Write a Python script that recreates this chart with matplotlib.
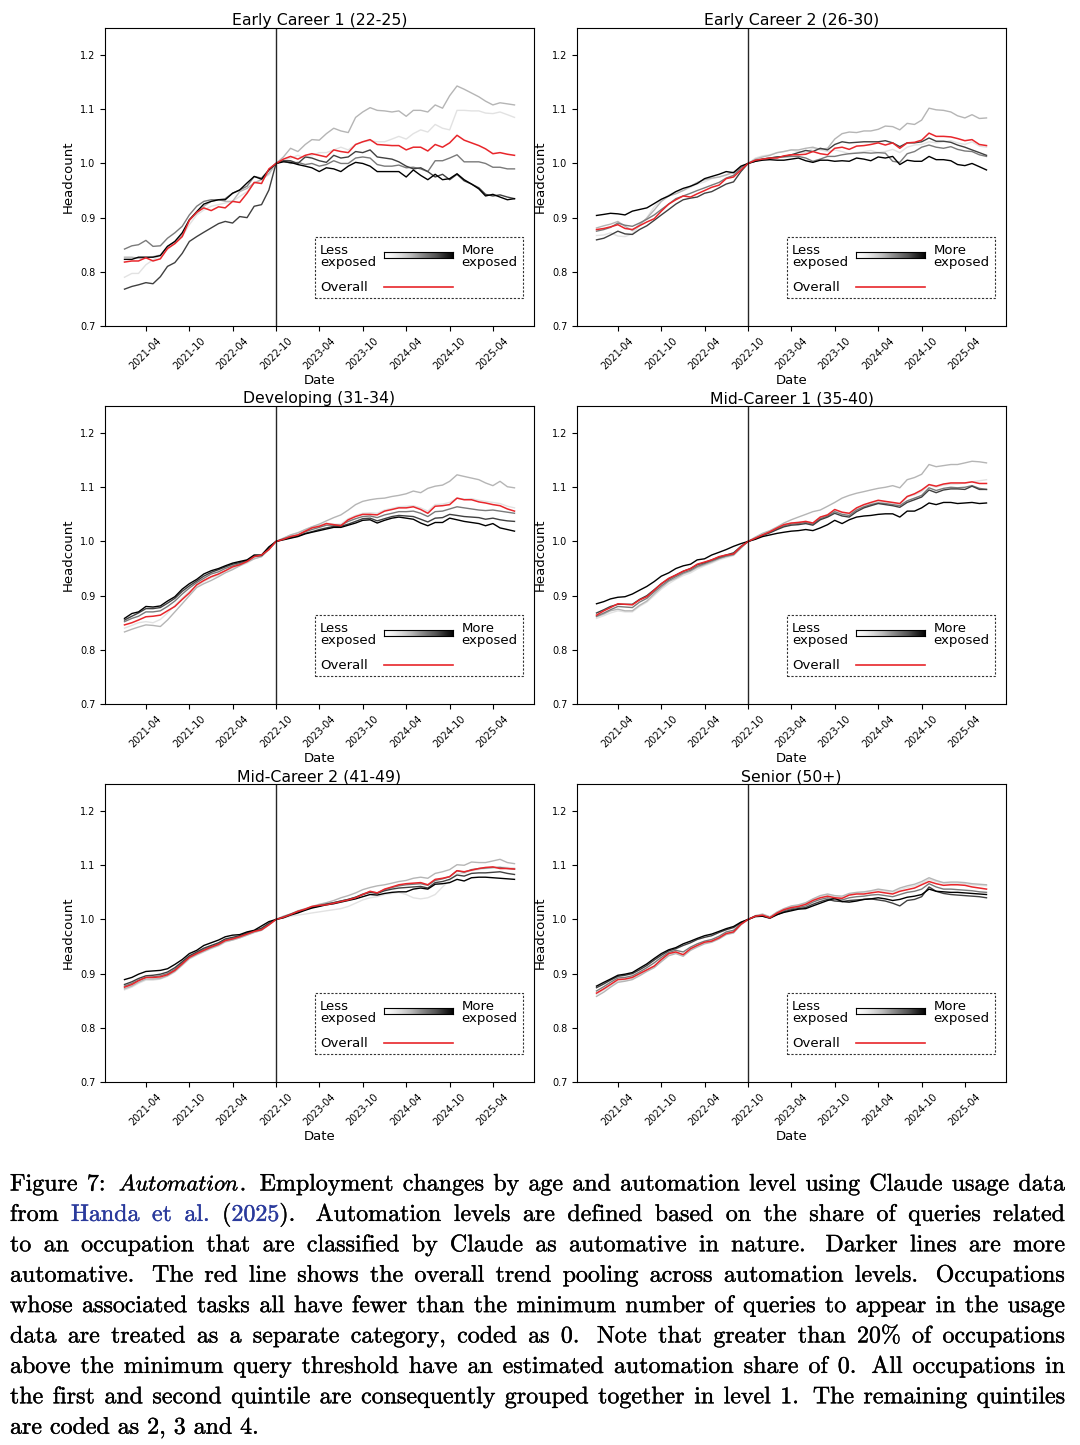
import numpy as np
import pandas as pd
import matplotlib
matplotlib.use("Agg")
import matplotlib.pyplot as plt
import matplotlib.dates as mdates
import matplotlib.patheffects as pe
from matplotlib.patches import Rectangle
from matplotlib.lines import Line2D

plt.rcParams["mathtext.fontset"] = "cm"
plt.rcParams["font.family"] = ["DejaVu Sans"]

# ---------------------------------------------------------------- data
dates = pd.date_range("2021-01-01", periods=55, freq="MS")
cutoff = pd.Timestamp("2022-10-01")
titles = ["Early Career 1 (22-25)", "Early Career 2 (26-30)", "Developing (31-34)",
          "Mid-Career 1 (35-40)", "Mid-Career 2 (41-49)", "Senior (50+)"]
yticks = [0.7, 0.8, 0.9, 1.0, 1.1, 1.2]

# Early Career 1 (22-25): automation levels 0..4 and overall
ec1_l0 = [0.790, 0.797, 0.797, 0.813, 0.822, 0.830, 0.841, 0.853, 0.865, 0.887, 0.905, 0.914, 0.921, 0.924, 0.927, 0.930, 0.939, 0.948, 0.964, 0.971, 0.979, 1.000,
          1.005, 1.010, 1.015, 1.010, 1.015, 1.020, 1.020, 1.025, 1.030, 1.025, 1.035, 1.040, 1.042, 1.040, 1.040, 1.045, 1.050, 1.045, 1.055, 1.062, 1.058, 1.072, 1.065, 1.062, 1.098, 1.098, 1.097, 1.097, 1.093, 1.092, 1.095, 1.090, 1.085]
ec1_l1 = [0.827, 0.827, 0.825, 0.825, 0.828, 0.831, 0.847, 0.856, 0.868, 0.896, 0.908, 0.921, 0.930, 0.933, 0.930, 0.930, 0.948, 0.954, 0.964, 0.970, 0.982, 1.000,
          1.012, 1.028, 1.022, 1.035, 1.044, 1.043, 1.055, 1.065, 1.060, 1.057, 1.085, 1.095, 1.103, 1.098, 1.097, 1.095, 1.097, 1.087, 1.098, 1.098, 1.095, 1.108, 1.102, 1.125, 1.143, 1.137, 1.130, 1.123, 1.115, 1.108, 1.112, 1.110, 1.108]
ec1_l2 = [0.842, 0.848, 0.850, 0.858, 0.847, 0.848, 0.862, 0.872, 0.884, 0.905, 0.921, 0.930, 0.933, 0.933, 0.935, 0.945, 0.951, 0.958, 0.976, 0.973, 0.988, 1.000,
          1.005, 1.000, 1.002, 0.998, 1.000, 0.995, 0.998, 1.005, 1.000, 1.000, 1.010, 1.012, 1.010, 0.998, 0.995, 0.995, 0.997, 0.992, 0.993, 0.990, 0.985, 1.005, 1.005, 1.010, 1.016, 1.003, 1.003, 1.003, 1.000, 0.993, 0.993, 0.990, 0.990]
ec1_l3 = [0.768, 0.773, 0.776, 0.780, 0.778, 0.791, 0.810, 0.817, 0.834, 0.856, 0.865, 0.873, 0.881, 0.889, 0.893, 0.890, 0.902, 0.900, 0.921, 0.924, 0.951, 1.000,
          1.005, 1.005, 1.000, 1.012, 1.010, 1.005, 1.002, 1.015, 1.010, 1.012, 1.022, 1.020, 1.025, 1.012, 1.010, 1.008, 1.003, 0.995, 0.990, 0.992, 0.985, 0.975, 0.980, 0.970, 0.980, 0.968, 0.962, 0.955, 0.943, 0.940, 0.942, 0.938, 0.935]
ec1_l4 = [0.823, 0.823, 0.827, 0.827, 0.827, 0.830, 0.847, 0.856, 0.872, 0.896, 0.911, 0.925, 0.930, 0.933, 0.933, 0.945, 0.951, 0.964, 0.976, 0.971, 0.988, 1.000,
          1.003, 1.002, 0.998, 0.995, 0.992, 0.985, 0.992, 0.990, 0.985, 0.995, 1.002, 1.000, 0.995, 0.985, 0.985, 0.985, 0.985, 0.975, 0.988, 0.978, 0.970, 0.980, 0.970, 0.972, 0.981, 0.970, 0.962, 0.953, 0.940, 0.943, 0.938, 0.933, 0.935]
ec1_all = [0.818, 0.820, 0.820, 0.826, 0.820, 0.824, 0.843, 0.852, 0.865, 0.895, 0.910, 0.918, 0.913, 0.920, 0.918, 0.930, 0.928, 0.945, 0.965, 0.963, 0.990, 1.000,
           1.008, 1.013, 1.008, 1.015, 1.018, 1.015, 1.012, 1.025, 1.022, 1.020, 1.035, 1.040, 1.044, 1.035, 1.034, 1.033, 1.033, 1.025, 1.030, 1.030, 1.023, 1.035, 1.030, 1.038, 1.052, 1.043, 1.038, 1.033, 1.027, 1.018, 1.020, 1.017, 1.015]

# Early Career 2 (26-30)
ec2_l0 = [0.867, 0.868, 0.872, 0.866, 0.865, 0.870, 0.885, 0.900, 0.920, 0.933, 0.942, 0.948, 0.950, 0.956, 0.962, 0.966, 0.972, 0.975, 0.978, 0.983, 0.992, 1.000,
          1.010, 1.014, 1.016, 1.020, 1.022, 1.025, 1.022, 1.020, 1.028, 1.025, 1.022, 1.025, 1.022, 1.018, 1.020, 1.022, 1.024, 1.020, 1.022, 1.026, 1.020, 1.030, 1.034, 1.035, 1.040, 1.038, 1.040, 1.042, 1.038, 1.035, 1.040, 1.032, 1.030]
ec2_l1 = [0.881, 0.885, 0.888, 0.893, 0.884, 0.876, 0.887, 0.899, 0.914, 0.930, 0.940, 0.944, 0.950, 0.958, 0.965, 0.970, 0.973, 0.975, 0.979, 0.984, 0.993, 1.000,
          1.008, 1.012, 1.015, 1.020, 1.022, 1.025, 1.025, 1.028, 1.030, 1.026, 1.028, 1.045, 1.055, 1.058, 1.057, 1.060, 1.060, 1.063, 1.069, 1.068, 1.062, 1.074, 1.072, 1.080, 1.102, 1.099, 1.098, 1.095, 1.088, 1.084, 1.090, 1.083, 1.084]
ec2_l2 = [0.875, 0.878, 0.882, 0.890, 0.886, 0.884, 0.890, 0.897, 0.905, 0.915, 0.925, 0.935, 0.940, 0.945, 0.950, 0.955, 0.960, 0.965, 0.973, 0.978, 0.992, 1.000,
          1.006, 1.008, 1.010, 1.012, 1.012, 1.013, 1.013, 1.010, 1.004, 1.008, 1.013, 1.013, 1.016, 1.018, 1.019, 1.020, 1.019, 1.020, 1.019, 1.004, 1.002, 1.018, 1.022, 1.030, 1.034, 1.030, 1.028, 1.031, 1.026, 1.023, 1.022, 1.016, 1.013]
ec2_l3 = [0.859, 0.862, 0.868, 0.875, 0.870, 0.869, 0.878, 0.885, 0.895, 0.905, 0.915, 0.925, 0.933, 0.936, 0.938, 0.945, 0.948, 0.955, 0.962, 0.966, 0.985, 1.000,
          1.004, 1.008, 1.010, 1.012, 1.013, 1.016, 1.020, 1.024, 1.022, 1.028, 1.025, 1.035, 1.040, 1.038, 1.039, 1.040, 1.040, 1.040, 1.042, 1.038, 1.031, 1.038, 1.038, 1.040, 1.047, 1.041, 1.041, 1.039, 1.034, 1.030, 1.025, 1.020, 1.015]
ec2_l4 = [0.904, 0.906, 0.908, 0.907, 0.905, 0.912, 0.915, 0.918, 0.926, 0.934, 0.940, 0.948, 0.954, 0.958, 0.963, 0.972, 0.976, 0.980, 0.985, 0.983, 0.995, 1.000,
          1.004, 1.006, 1.007, 1.006, 1.006, 1.008, 1.010, 1.005, 1.002, 1.006, 1.006, 1.004, 1.005, 1.004, 1.010, 1.008, 1.005, 1.012, 1.010, 1.013, 0.998, 1.006, 1.004, 1.004, 1.013, 1.007, 1.007, 1.005, 0.998, 0.996, 1.000, 0.994, 0.988]
ec2_all = [0.878, 0.880, 0.883, 0.887, 0.880, 0.878, 0.885, 0.892, 0.898, 0.912, 0.925, 0.933, 0.940, 0.938, 0.944, 0.950, 0.956, 0.960, 0.972, 0.975, 0.988, 1.000,
           1.006, 1.008, 1.010, 1.010, 1.014, 1.016, 1.016, 1.017, 1.022, 1.018, 1.016, 1.028, 1.030, 1.026, 1.032, 1.033, 1.035, 1.038, 1.034, 1.038, 1.028, 1.038, 1.039, 1.043, 1.056, 1.050, 1.050, 1.049, 1.046, 1.042, 1.044, 1.035, 1.033]

# Developing (31-34)
dev_l0 = [0.840, 0.845, 0.850, 0.852, 0.850, 0.856, 0.868, 0.882, 0.896, 0.908, 0.918, 0.926, 0.933, 0.938, 0.945, 0.950, 0.955, 0.960, 0.968, 0.972, 0.985, 1.000,
          1.006, 1.012, 1.016, 1.022, 1.027, 1.030, 1.034, 1.032, 1.032, 1.042, 1.048, 1.052, 1.053, 1.052, 1.058, 1.061, 1.064, 1.065, 1.066, 1.062, 1.056, 1.068, 1.069, 1.072, 1.080, 1.078, 1.079, 1.076, 1.074, 1.072, 1.070, 1.065, 1.062]
dev_l1 = [0.833, 0.838, 0.842, 0.846, 0.845, 0.843, 0.855, 0.870, 0.885, 0.900, 0.915, 0.922, 0.928, 0.935, 0.942, 0.948, 0.955, 0.962, 0.968, 0.972, 0.985, 1.000,
          1.006, 1.012, 1.016, 1.022, 1.027, 1.032, 1.038, 1.044, 1.049, 1.058, 1.068, 1.074, 1.077, 1.079, 1.080, 1.083, 1.085, 1.088, 1.093, 1.090, 1.098, 1.102, 1.104, 1.111, 1.123, 1.120, 1.117, 1.114, 1.108, 1.103, 1.111, 1.101, 1.099]
dev_l2 = [0.852, 0.858, 0.862, 0.870, 0.870, 0.872, 0.880, 0.890, 0.903, 0.914, 0.924, 0.932, 0.940, 0.944, 0.950, 0.955, 0.959, 0.964, 0.972, 0.974, 0.986, 1.000,
          1.005, 1.009, 1.012, 1.018, 1.022, 1.026, 1.030, 1.030, 1.030, 1.037, 1.042, 1.046, 1.047, 1.044, 1.049, 1.052, 1.055, 1.055, 1.056, 1.052, 1.046, 1.055, 1.056, 1.060, 1.064, 1.062, 1.060, 1.058, 1.057, 1.058, 1.056, 1.054, 1.052]
dev_l3 = [0.855, 0.862, 0.868, 0.876, 0.876, 0.878, 0.886, 0.895, 0.908, 0.918, 0.927, 0.936, 0.943, 0.948, 0.953, 0.958, 0.961, 0.965, 0.973, 0.974, 0.988, 1.000,
          1.004, 1.007, 1.010, 1.015, 1.018, 1.022, 1.025, 1.028, 1.028, 1.032, 1.037, 1.042, 1.043, 1.038, 1.042, 1.046, 1.048, 1.047, 1.046, 1.041, 1.036, 1.043, 1.044, 1.050, 1.048, 1.046, 1.045, 1.044, 1.041, 1.043, 1.040, 1.038, 1.037]
dev_l4 = [0.858, 0.867, 0.870, 0.880, 0.879, 0.881, 0.890, 0.898, 0.912, 0.922, 0.930, 0.940, 0.946, 0.950, 0.955, 0.960, 0.963, 0.966, 0.975, 0.975, 0.990, 1.000,
          1.003, 1.006, 1.009, 1.014, 1.017, 1.020, 1.023, 1.026, 1.026, 1.030, 1.034, 1.039, 1.040, 1.034, 1.039, 1.043, 1.045, 1.043, 1.041, 1.034, 1.029, 1.035, 1.035, 1.043, 1.040, 1.037, 1.035, 1.033, 1.029, 1.033, 1.025, 1.022, 1.019]
dev_all = [0.846, 0.850, 0.855, 0.861, 0.862, 0.864, 0.872, 0.880, 0.893, 0.905, 0.920, 0.928, 0.935, 0.940, 0.946, 0.953, 0.957, 0.963, 0.972, 0.975, 0.985, 1.000,
           1.004, 1.009, 1.012, 1.019, 1.025, 1.028, 1.033, 1.031, 1.029, 1.040, 1.046, 1.050, 1.050, 1.049, 1.056, 1.059, 1.062, 1.062, 1.064, 1.059, 1.052, 1.065, 1.066, 1.068, 1.080, 1.077, 1.077, 1.073, 1.071, 1.068, 1.066, 1.060, 1.056]

# Mid-Career 1 (35-40)
mc1_l0 = [0.858, 0.863, 0.868, 0.872, 0.870, 0.870, 0.880, 0.888, 0.900, 0.912, 0.922, 0.930, 0.937, 0.942, 0.949, 0.955, 0.960, 0.966, 0.970, 0.974, 0.987, 1.000,
          1.008, 1.014, 1.019, 1.025, 1.031, 1.034, 1.036, 1.037, 1.034, 1.044, 1.050, 1.057, 1.053, 1.051, 1.060, 1.066, 1.070, 1.073, 1.073, 1.071, 1.068, 1.082, 1.086, 1.092, 1.104, 1.100, 1.104, 1.106, 1.106, 1.108, 1.110, 1.112, 1.114]
mc1_l1 = [0.861, 0.866, 0.872, 0.875, 0.872, 0.872, 0.882, 0.890, 0.903, 0.915, 0.926, 0.932, 0.940, 0.945, 0.952, 0.957, 0.962, 0.968, 0.972, 0.975, 0.988, 1.000,
          1.008, 1.015, 1.020, 1.027, 1.034, 1.040, 1.045, 1.050, 1.055, 1.058, 1.065, 1.072, 1.080, 1.085, 1.089, 1.092, 1.095, 1.098, 1.100, 1.103, 1.099, 1.114, 1.118, 1.124, 1.142, 1.138, 1.140, 1.142, 1.142, 1.145, 1.148, 1.147, 1.145]
mc1_l2 = [0.862, 0.868, 0.874, 0.880, 0.879, 0.878, 0.888, 0.895, 0.907, 0.918, 0.928, 0.935, 0.942, 0.947, 0.954, 0.959, 0.964, 0.969, 0.973, 0.976, 0.989, 1.000,
          1.006, 1.012, 1.017, 1.023, 1.029, 1.032, 1.033, 1.035, 1.032, 1.042, 1.047, 1.055, 1.050, 1.048, 1.058, 1.064, 1.068, 1.071, 1.070, 1.068, 1.066, 1.075, 1.080, 1.085, 1.099, 1.094, 1.098, 1.100, 1.099, 1.100, 1.103, 1.098, 1.096]
mc1_l3 = [0.868, 0.874, 0.880, 0.884, 0.884, 0.884, 0.893, 0.900, 0.911, 0.922, 0.931, 0.938, 0.945, 0.950, 0.957, 0.961, 0.966, 0.971, 0.975, 0.979, 0.991, 1.000,
          1.005, 1.011, 1.016, 1.022, 1.027, 1.030, 1.031, 1.033, 1.030, 1.040, 1.045, 1.052, 1.047, 1.045, 1.055, 1.062, 1.066, 1.070, 1.068, 1.066, 1.063, 1.072, 1.077, 1.082, 1.095, 1.090, 1.095, 1.097, 1.097, 1.096, 1.102, 1.096, 1.096]
mc1_l4 = [0.885, 0.889, 0.894, 0.897, 0.898, 0.903, 0.910, 0.917, 0.926, 0.936, 0.942, 0.950, 0.955, 0.958, 0.966, 0.968, 0.975, 0.980, 0.985, 0.991, 0.996, 1.000,
          1.004, 1.009, 1.012, 1.015, 1.017, 1.019, 1.020, 1.022, 1.020, 1.025, 1.031, 1.039, 1.033, 1.040, 1.045, 1.047, 1.048, 1.050, 1.051, 1.051, 1.045, 1.056, 1.056, 1.062, 1.071, 1.068, 1.072, 1.072, 1.070, 1.071, 1.072, 1.070, 1.071]
mc1_all = [0.864, 0.872, 0.878, 0.885, 0.884, 0.883, 0.892, 0.898, 0.910, 0.922, 0.932, 0.938, 0.945, 0.950, 0.958, 0.962, 0.966, 0.972, 0.975, 0.977, 0.990, 1.000,
           1.006, 1.012, 1.018, 1.025, 1.031, 1.034, 1.035, 1.037, 1.034, 1.045, 1.049, 1.059, 1.054, 1.052, 1.062, 1.068, 1.072, 1.076, 1.074, 1.072, 1.070, 1.083, 1.088, 1.095, 1.105, 1.102, 1.106, 1.108, 1.108, 1.108, 1.110, 1.107, 1.107]

# Mid-Career 2 (41-49)
mc2_l0 = [0.870, 0.875, 0.882, 0.888, 0.888, 0.890, 0.895, 0.903, 0.915, 0.927, 0.934, 0.940, 0.946, 0.951, 0.958, 0.962, 0.966, 0.971, 0.976, 0.980, 0.990, 1.000,
          1.003, 1.006, 1.008, 1.010, 1.012, 1.014, 1.016, 1.018, 1.020, 1.024, 1.030, 1.036, 1.040, 1.042, 1.046, 1.048, 1.050, 1.046, 1.040, 1.038, 1.040, 1.046, 1.060, 1.072, 1.085, 1.085, 1.090, 1.092, 1.094, 1.095, 1.097, 1.096, 1.095]
mc2_l1 = [0.872, 0.877, 0.884, 0.890, 0.890, 0.891, 0.896, 0.904, 0.916, 0.928, 0.935, 0.941, 0.947, 0.952, 0.959, 0.962, 0.966, 0.971, 0.976, 0.980, 0.990, 1.000,
          1.006, 1.010, 1.016, 1.020, 1.024, 1.028, 1.031, 1.035, 1.040, 1.044, 1.049, 1.055, 1.059, 1.062, 1.064, 1.067, 1.070, 1.072, 1.076, 1.078, 1.076, 1.085, 1.088, 1.092, 1.101, 1.100, 1.106, 1.105, 1.105, 1.108, 1.111, 1.105, 1.103]
mc2_l2 = [0.877, 0.882, 0.888, 0.893, 0.894, 0.896, 0.900, 0.908, 0.920, 0.931, 0.938, 0.945, 0.950, 0.955, 0.962, 0.965, 0.969, 0.974, 0.978, 0.982, 0.992, 1.000,
          1.005, 1.010, 1.015, 1.019, 1.023, 1.026, 1.029, 1.031, 1.034, 1.037, 1.041, 1.047, 1.051, 1.049, 1.055, 1.059, 1.062, 1.064, 1.065, 1.066, 1.063, 1.072, 1.075, 1.079, 1.090, 1.087, 1.092, 1.094, 1.095, 1.096, 1.096, 1.094, 1.093]
mc2_l3 = [0.880, 0.885, 0.891, 0.896, 0.897, 0.899, 0.903, 0.911, 0.922, 0.933, 0.940, 0.947, 0.952, 0.957, 0.964, 0.967, 0.970, 0.975, 0.979, 0.984, 0.993, 1.000,
          1.004, 1.009, 1.014, 1.018, 1.022, 1.025, 1.028, 1.031, 1.034, 1.037, 1.041, 1.046, 1.050, 1.048, 1.053, 1.056, 1.058, 1.059, 1.060, 1.061, 1.058, 1.068, 1.070, 1.074, 1.082, 1.080, 1.085, 1.086, 1.086, 1.087, 1.088, 1.085, 1.083]
mc2_l4 = [0.889, 0.893, 0.899, 0.904, 0.905, 0.906, 0.909, 0.917, 0.926, 0.937, 0.943, 0.952, 0.957, 0.962, 0.968, 0.971, 0.972, 0.977, 0.980, 0.988, 0.996, 1.000,
          1.003, 1.008, 1.012, 1.017, 1.021, 1.024, 1.027, 1.029, 1.032, 1.035, 1.038, 1.042, 1.046, 1.045, 1.048, 1.050, 1.051, 1.051, 1.056, 1.058, 1.056, 1.065, 1.066, 1.068, 1.074, 1.071, 1.077, 1.078, 1.078, 1.077, 1.076, 1.075, 1.074]
mc2_all = [0.875, 0.880, 0.887, 0.893, 0.893, 0.894, 0.898, 0.906, 0.918, 0.930, 0.937, 0.943, 0.949, 0.954, 0.961, 0.964, 0.968, 0.973, 0.978, 0.981, 0.990, 1.000,
           1.004, 1.009, 1.015, 1.019, 1.024, 1.026, 1.027, 1.030, 1.033, 1.036, 1.040, 1.046, 1.052, 1.049, 1.056, 1.060, 1.064, 1.066, 1.067, 1.068, 1.064, 1.074, 1.076, 1.079, 1.090, 1.088, 1.091, 1.094, 1.096, 1.097, 1.094, 1.094, 1.093]

# Senior (50+)
sen_l0 = [0.862, 0.870, 0.878, 0.886, 0.888, 0.891, 0.898, 0.906, 0.914, 0.925, 0.935, 0.939, 0.935, 0.945, 0.951, 0.957, 0.960, 0.966, 0.974, 0.977, 0.991, 1.000,
          1.007, 1.009, 1.004, 1.013, 1.019, 1.024, 1.026, 1.030, 1.037, 1.043, 1.046, 1.042, 1.041, 1.047, 1.049, 1.050, 1.052, 1.054, 1.052, 1.050, 1.055, 1.059, 1.062, 1.067, 1.074, 1.070, 1.067, 1.067, 1.067, 1.066, 1.064, 1.063, 1.062]
sen_l1 = [0.858, 0.866, 0.875, 0.884, 0.886, 0.889, 0.896, 0.904, 0.911, 0.922, 0.933, 0.937, 0.932, 0.943, 0.949, 0.955, 0.958, 0.964, 0.972, 0.975, 0.990, 1.000,
          1.007, 1.010, 1.005, 1.014, 1.020, 1.025, 1.027, 1.031, 1.038, 1.044, 1.047, 1.044, 1.043, 1.048, 1.050, 1.051, 1.053, 1.056, 1.054, 1.052, 1.058, 1.062, 1.065, 1.070, 1.077, 1.072, 1.068, 1.069, 1.069, 1.068, 1.066, 1.065, 1.064]
sen_l2 = [0.868, 0.876, 0.884, 0.892, 0.893, 0.896, 0.903, 0.911, 0.920, 0.930, 0.939, 0.943, 0.940, 0.949, 0.955, 0.960, 0.963, 0.969, 0.977, 0.980, 0.992, 1.000,
          1.006, 1.007, 1.003, 1.011, 1.016, 1.020, 1.022, 1.025, 1.032, 1.037, 1.040, 1.037, 1.036, 1.040, 1.042, 1.043, 1.045, 1.046, 1.044, 1.042, 1.046, 1.050, 1.052, 1.056, 1.066, 1.060, 1.056, 1.056, 1.055, 1.054, 1.053, 1.051, 1.050]
sen_l3 = [0.874, 0.881, 0.888, 0.895, 0.897, 0.900, 0.907, 0.915, 0.925, 0.934, 0.942, 0.946, 0.952, 0.957, 0.963, 0.967, 0.970, 0.976, 0.981, 0.985, 0.994, 1.000,
          1.005, 1.006, 1.002, 1.009, 1.014, 1.018, 1.020, 1.022, 1.028, 1.033, 1.037, 1.034, 1.033, 1.035, 1.036, 1.037, 1.038, 1.036, 1.034, 1.030, 1.025, 1.035, 1.037, 1.042, 1.060, 1.052, 1.048, 1.046, 1.045, 1.044, 1.043, 1.042, 1.040]
sen_l4 = [0.877, 0.884, 0.890, 0.897, 0.899, 0.902, 0.910, 0.918, 0.928, 0.937, 0.944, 0.948, 0.955, 0.960, 0.965, 0.970, 0.973, 0.978, 0.983, 0.987, 0.995, 1.000,
          1.006, 1.006, 1.003, 1.009, 1.013, 1.016, 1.019, 1.020, 1.025, 1.030, 1.035, 1.039, 1.033, 1.032, 1.034, 1.037, 1.038, 1.040, 1.038, 1.035, 1.037, 1.041, 1.043, 1.046, 1.056, 1.052, 1.051, 1.050, 1.050, 1.049, 1.048, 1.047, 1.046]
sen_all = [0.864, 0.872, 0.880, 0.889, 0.890, 0.893, 0.900, 0.907, 0.914, 0.926, 0.937, 0.940, 0.935, 0.946, 0.952, 0.958, 0.960, 0.966, 0.974, 0.977, 0.991, 1.000,
           1.006, 1.008, 1.003, 1.012, 1.018, 1.022, 1.024, 1.028, 1.035, 1.040, 1.043, 1.040, 1.039, 1.045, 1.047, 1.047, 1.049, 1.051, 1.049, 1.047, 1.052, 1.055, 1.058, 1.064, 1.070, 1.066, 1.063, 1.064, 1.064, 1.063, 1.060, 1.058, 1.056]

panels = [
    (ec1_l0, ec1_l1, ec1_l2, ec1_l3, ec1_l4, ec1_all),
    (ec2_l0, ec2_l1, ec2_l2, ec2_l3, ec2_l4, ec2_all),
    (dev_l0, dev_l1, dev_l2, dev_l3, dev_l4, dev_all),
    (mc1_l0, mc1_l1, mc1_l2, mc1_l3, mc1_l4, mc1_all),
    (mc2_l0, mc2_l1, mc2_l2, mc2_l3, mc2_l4, mc2_all),
    (sen_l0, sen_l1, sen_l2, sen_l3, sen_l4, sen_all),
]
for pi, p in enumerate(panels):
    for si, s in enumerate(p):
        if len(s) != len(dates):
            raise ValueError(f"panel {pi} series {si} has {len(s)} values")

caption_lines = [
    ["Figure", "7:", [("Automation", "it"), (".", None)], "Employment", "changes", "by", "age", "and",
     "automation", "level", "using", "Claude", "usage", "data"],
    ["from", [("Handa", "blue")], [("et", "blue")], [("al.", "blue")], [("(", None), ("2025", "blue"), (").", None)],
     "Automation", "levels", "are", "defined", "based", "on", "the", "share", "of", "queries", "related"],
    "to an occupation that are classified by Claude as automative in nature. Darker lines are more".split(),
    "automative. The red line shows the overall trend pooling across automation levels. Occupations".split(),
    "whose associated tasks all have fewer than the minimum number of queries to appear in the usage".split(),
    "data are treated as a separate category, coded as 0. Note that greater than 20% of occupations".split(),
    "above the minimum query threshold have an estimated automation share of 0. All occupations in".split(),
    "the first and second quintile are consequently grouped together in level 1. The remaining quintiles".split(),
    "are coded as 2, 3 and 4.".split(),
]

# ---------------------------------------------------------------- layout / style
W, H = 1080, 1445
RED = "#e8262b"
BLUE = "#2a3a9c"
grey_cols = plt.get_cmap("Greys")([0.2, 0.4, 0.6, 0.8, 1.0])

fig = plt.figure(figsize=(W / 100, H / 100), dpi=100)
col_left = [105, 577]
row_top = [28, 406, 784]
ax_w, ax_h = 429, 298


def draw_legend(ax):
    box = Rectangle((0.4895, 0.093), 0.4841, 0.2067, transform=ax.transAxes,
                    facecolor="white", edgecolor="#333333", lw=0.8,
                    linestyle=(0, (2.0, 1.5)), zorder=5)
    ax.add_patch(box)
    fs = 9.5
    kw = dict(transform=ax.transAxes, fontsize=fs, va="baseline", ha="left", zorder=6)
    ax.text(0.501, 0.2430, "Less", **kw)
    ax.text(0.501, 0.2030, "exposed", **kw)
    ax.text(0.8315, 0.2430, "More", **kw)
    ax.text(0.8315, 0.2030, "exposed", **kw)
    ax.text(0.501, 0.1190, "Overall", **kw)
    ax.add_line(Line2D([0.650, 0.8105], [0.130, 0.130], transform=ax.transAxes,
                       color=RED, lw=1.2, zorder=6))
    cax = ax.inset_axes([0.650, 0.2275, 0.1618, 0.0218], zorder=6)
    cax.imshow(np.linspace(0, 1, 256)[None, :], aspect="auto", cmap="Greys")
    cax.set_xticks([])
    cax.set_yticks([])
    for sp in cax.spines.values():
        sp.set_linewidth(0.8)


for i, (title, series) in enumerate(zip(titles, panels)):
    r, c = divmod(i, 2)
    left = col_left[c]
    top = row_top[r]
    ax = fig.add_axes([left / W, 1 - (top + ax_h) / H, ax_w / W, ax_h / H])
    for k in range(5):
        ax.plot(dates, series[k], color=grey_cols[k], lw=1.0, zorder=2)
    ax.plot(dates, series[5], color=RED, lw=1.1, zorder=3)
    ax.axvline(cutoff, color="black", lw=1.0, alpha=0.85, zorder=4)
    ax.set_ylim(0.7, 1.25)
    ax.set_yticks(yticks)
    ax.xaxis.set_major_locator(mdates.MonthLocator(bymonth=[4, 10]))
    ax.xaxis.set_major_formatter(mdates.DateFormatter("%Y-%m"))
    ax.tick_params(axis="x", labelrotation=45, labelsize=7)
    ax.tick_params(axis="y", labelsize=7)
    ax.set_xlabel("Date", fontsize=9.5, labelpad=2)
    ax.set_ylabel("Headcount", fontsize=9.5)
    ax.set_title(title, fontsize=11.3, pad=2)
    draw_legend(ax)

# ---------------------------------------------------------------- caption (justified)
renderer = fig.canvas.get_renderer()
x_left, x_right = 10.0, 1065.0
base0, lead = 1190.5, 30.4
thick = [pe.withStroke(linewidth=0.25, foreground="black")]
thick_blue = [pe.withStroke(linewidth=0.25, foreground=BLUE)]


def make_seg(text, style, fs):
    kw = dict(fontsize=fs, va="baseline", ha="left")
    if style == "it":
        t = fig.text(0, 0, r"$\mathit{%s}$" % text, color="black", **kw)
        t.set_fontsize(fs * 0.93)
        t.set_path_effects(thick)
    else:
        blue = style == "blue"
        t = fig.text(0, 0, text, fontfamily="cmr10",
                     color=BLUE if blue else "black", **kw)
        t.set_path_effects(thick_blue if blue else thick)
    return t


# font size: natural width of the last (unjustified) line is ~250 px in the reference
probe_words = caption_lines[-1]
w10 = 0.0
for pw in probe_words:
    t = make_seg(pw, None, 10)
    w10 += t.get_window_extent(renderer).width
    t.remove()
per_pt = w10 / 10 + (len(probe_words) - 1) * 0.333 * 100 / 72.0
cap_fs = 250.0 / per_pt
em = cap_fs * 100 / 72.0

for li, words in enumerate(caption_lines):
    y = 1 - (base0 + li * lead) / H
    toks = []
    for w in words:
        segs = [(w, None)] if isinstance(w, str) else w
        objs = [make_seg(s, st, cap_fs) for s, st in segs]
        widths = [o.get_window_extent(renderer).width for o in objs]
        last = segs[-1][0]
        sent = (last.endswith(".") or last.endswith(":")) and last != "al."
        toks.append((objs, widths, sent))
    total_words = sum(sum(t[1]) for t in toks)
    nat = []
    stretch = []
    for t in toks[:-1]:
        if t[2]:
            nat.append(0.444 * em)
            stretch.append(0.36 * em)
        else:
            nat.append(0.333 * em)
            stretch.append(0.167 * em)
    last_line = li == len(caption_lines) - 1
    if last_line:
        gaps = nat
    else:
        extra = (x_right - x_left) - total_words - sum(nat)
        if extra >= 0:
            ratio = extra / sum(stretch)
            gaps = [n + ratio * s for n, s in zip(nat, stretch)]
        else:
            per = extra / len(nat)
            gaps = [n + per for n in nat]
    x = x_left
    for ti, (objs, widths, sent) in enumerate(toks):
        for o, wd in zip(objs, widths):
            o.set_position((x / W, y))
            x += wd
        if ti < len(gaps):
            x += gaps[ti]

fig.savefig("out.png", dpi=100)
